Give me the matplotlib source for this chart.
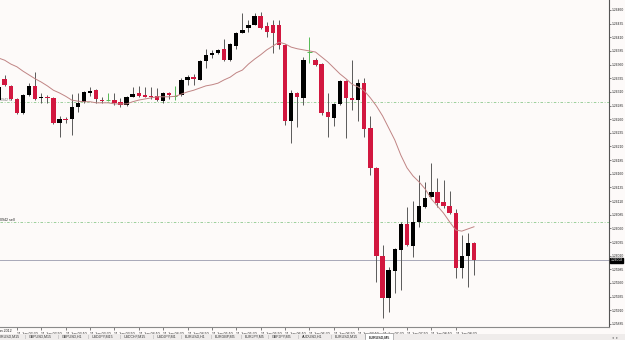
import numpy as np
import pandas as pd
import matplotlib
matplotlib.use('Agg')
import matplotlib.pyplot as plt
from matplotlib.patches import Rectangle

# EURUSD M5, 11 Jun 2012, one value per bar
open_ = [1.26295, 1.26334, 1.26321, 1.26297, 1.26271, 1.26304, 1.26321, 1.26298, 1.26300, 1.26299,
         1.26253, 1.26261, 1.26260, 1.26282, 1.26292, 1.26308, 1.26313, 1.26296, 1.26295, 1.26295,
         1.26292, 1.26286, 1.26301, 1.26308, 1.26304, 1.26302, 1.26302, 1.26293, 1.26308, 1.26303,
         1.26304, 1.26332, 1.26337, 1.26332, 1.26367, 1.26378, 1.26381, 1.26389, 1.26368, 1.26394,
         1.26418, 1.26427, 1.26433, 1.26449, 1.26431, 1.26433, 1.26433, 1.26396, 1.26257, 1.26308,
         1.26299, 1.26383, 1.26368, 1.26361, 1.26273, 1.26262, 1.26288, 1.26330, 1.26298, 1.26295,
         1.26326, 1.26244, 1.26171, 1.26009, 1.25933, 1.25982, 1.26020, 1.26068, 1.26028, 1.26072,
         1.26099, 1.26118, 1.26127, 1.26108, 1.26101, 1.26088, 1.25987, 1.26009, 1.26033]
high = [1.26323, 1.26341, 1.26323, 1.26299, 1.26306, 1.26326, 1.26346, 1.26308, 1.26304, 1.26301,
        1.26266, 1.26264, 1.26306, 1.26308, 1.26312, 1.26319, 1.26315, 1.26301, 1.26308, 1.26308,
        1.26299, 1.26302, 1.26319, 1.26321, 1.26319, 1.26319, 1.26317, 1.26309, 1.26310, 1.26321,
        1.26335, 1.26341, 1.26343, 1.26368, 1.26389, 1.26387, 1.26389, 1.26407, 1.26400, 1.26420,
        1.26455, 1.26442, 1.26455, 1.26456, 1.26438, 1.26442, 1.26442, 1.26398, 1.26313, 1.26310,
        1.26374, 1.26411, 1.26372, 1.26363, 1.26308, 1.26290, 1.26331, 1.26332, 1.26368, 1.26334,
        1.26335, 1.26266, 1.26172, 1.26030, 1.25989, 1.26024, 1.26072, 1.26099, 1.26110, 1.26158,
        1.26145, 1.26180, 1.26152, 1.26149, 1.26128, 1.26096, 1.26048, 1.26052, 1.26035]
low = [1.26292, 1.26321, 1.26295, 1.26270, 1.26270, 1.26302, 1.26295, 1.26290, 1.26290, 1.26251,
       1.26227, 1.26253, 1.26231, 1.26273, 1.26290, 1.26302, 1.26290, 1.26290, 1.26293, 1.26286,
       1.26282, 1.26284, 1.26300, 1.26301, 1.26300, 1.26297, 1.26294, 1.26290, 1.26297, 1.26295,
       1.26302, 1.26323, 1.26323, 1.26331, 1.26354, 1.26372, 1.26379, 1.26367, 1.26367, 1.26389,
       1.26417, 1.26420, 1.26432, 1.26425, 1.26411, 1.26381, 1.26389, 1.26249, 1.26216, 1.26246,
       1.26286, 1.26363, 1.26358, 1.26268, 1.26227, 1.26248, 1.26286, 1.26226, 1.26277, 1.26257,
       1.26227, 1.26158, 1.25962, 1.25896, 1.25907, 1.25942, 1.25947, 1.26028, 1.26008, 1.26063,
       1.26098, 1.26117, 1.26099, 1.26097, 1.26087, 1.25969, 1.25969, 1.25953, 1.25975]
close = [1.26319, 1.26323, 1.26297, 1.26271, 1.26304, 1.26321, 1.26297, 1.26300, 1.26298, 1.26253,
         1.26260, 1.26259, 1.26282, 1.26290, 1.26310, 1.26312, 1.26297, 1.26294, 1.26295, 1.26290,
         1.26286, 1.26301, 1.26306, 1.26302, 1.26301, 1.26300, 1.26295, 1.26308, 1.26304, 1.26303,
         1.26332, 1.26337, 1.26334, 1.26367, 1.26378, 1.26381, 1.26387, 1.26368, 1.26398, 1.26418,
         1.26423, 1.26433, 1.26449, 1.26427, 1.26420, 1.26418, 1.26396, 1.26257, 1.26308, 1.26301,
         1.26368, 1.26383, 1.26359, 1.26271, 1.26264, 1.26288, 1.26330, 1.26299, 1.26296, 1.26326,
         1.26242, 1.26171, 1.26009, 1.25933, 1.25984, 1.26022, 1.26068, 1.26030, 1.26072, 1.26101,
         1.26116, 1.26127, 1.26107, 1.26101, 1.26088, 1.25987, 1.26009, 1.26033, 1.26002]
ma = [1.26372, 1.26368, 1.26361, 1.26356, 1.26348, 1.26341, 1.26334, 1.26328, 1.26321, 1.26313,
      1.26308, 1.26302, 1.26295, 1.26293, 1.26292, 1.26292, 1.26290, 1.26290, 1.26290, 1.26288,
      1.26288, 1.26288, 1.26292, 1.26295, 1.26297, 1.26299, 1.26301, 1.26301, 1.26301, 1.26302,
      1.26306, 1.26310, 1.26313, 1.26317, 1.26321, 1.26323, 1.26326, 1.26332, 1.26337, 1.26345,
      1.26350, 1.26361, 1.26370, 1.26378, 1.26387, 1.26394, 1.26401, 1.26398, 1.26392, 1.26389,
      1.26387, 1.26385, 1.26383, 1.26374, 1.26365, 1.26354, 1.26343, 1.26334, 1.26324, 1.26319,
      1.26312, 1.26299, 1.26284, 1.26266, 1.26244, 1.26222, 1.26194, 1.26171, 1.26156, 1.26145,
      1.26132, 1.26114, 1.26101, 1.26088, 1.26072, 1.26057, 1.26055, 1.26059, 1.26063]

first_bar = '2012-06-11 02:15'
order_sell = 1.26072
order_sl = 1.26292
tabs = ['EURUSD,M15', 'GBPUSD,M15', 'GBPUSD,H1', 'USDJPY,M15', 'USDCHF,M15', 'USDJPY,M1',
        'EURUSD,H1', 'EURGBP,M5', 'EURJPY,M5', 'GBPJPY,M5', 'AUDUSD,H1', 'EURUSD,M15', 'EURUSD,M5']
tab_x = [-5, 27, 60, 90, 122, 155, 183, 213, 243, 270, 300, 333, 367]

W, H = 625, 340
BG = '#fdfaf9'
BULL, BEAR = '#000000', '#d2173f'
FONT = 'Liberation Sans'

o = np.array(open_)
c = np.array(close)
hi = np.array(high)
lo = np.array(low)
idx = np.arange(len(o))
times = pd.date_range(first_bar, periods=len(o), freq='5min')

fig = plt.figure(figsize=(W / 100, H / 100), dpi=100, facecolor=BG)
ax = fig.add_axes([0, 13 / H, 609 / W, 327 / H], facecolor=BG)

# wicks
doji = np.isclose(o, c)
ax.vlines(idx[~doji], lo[~doji], hi[~doji], color='#5a5a5a', lw=0.7, zorder=2)
ax.vlines(idx[doji], lo[doji], hi[doji], color='#55bb55', lw=0.7, zorder=2)
ax.hlines(c[doji], idx[doji] - 0.35, idx[doji] + 0.35, color='#55bb55', lw=0.7, zorder=3)

# bodies
up = (c > o) & ~doji
dn = (c < o) & ~doji
ax.bar(idx[up], (c - o)[up], bottom=o[up], width=0.72, color=BULL, lw=0, zorder=3)
ax.bar(idx[dn], (o - c)[dn], bottom=c[dn], width=0.72, color=BEAR, lw=0, zorder=3)

# moving average
ax.plot(idx, ma, color='#c08484', lw=0.7, zorder=4)

# order lines
for lvl in (order_sl, order_sell):
    ax.axhline(lvl, color='#8cc88c', lw=0.6, dashes=(3, 2, 1, 2), zorder=1)
ax.text(0.3, order_sell, '0942 sell', fontsize=2.6, family=FONT, va='bottom', ha='left', color='#222222')
ax.text(0.3, order_sl, '0942 sl', fontsize=2.6, family=FONT, va='bottom', ha='left', color='#777777', zorder=1)

# current price line
ax.axhline(c[-1], color='#a8a8b8', lw=0.7, zorder=1)

ax.set_xlim(0.23, 100.15)
ax.set_ylim(1.258794, 1.264783)

# y axis on the right
yt = np.arange(1.25885, 1.264651, 0.00025)
ax.yaxis.tick_right()
ax.set_yticks(yt)
ax.set_yticklabels([f'{v:.5f}' for v in yt], family=FONT, fontsize=2.4)
ax.tick_params(axis='y', length=1.5, width=0.4, pad=0.6, colors='#222222')

# x axis time labels every 20 minutes
xt = idx[3::4][:19]
ax.set_xticks(xt)
ax.set_xticklabels([t.strftime('11 Jun %H:%M') for t in times[xt]], family=FONT, fontsize=2.6, ha='left')
ax.tick_params(axis='x', length=2, width=0.4, pad=1.5, colors='#222222')

for s in ('left', 'top'):
    ax.spines[s].set_visible(False)
ax.spines['right'].set_color('#555555')
ax.spines['right'].set_linewidth(0.8)
ax.spines['bottom'].set_color('#8a8a8a')
ax.spines['bottom'].set_linewidth(0.8)

# current price marker on axis
fig.text(610.5 / W, 1 - 260 / H, f'{c[-1]:.5f}', fontsize=2.4, family=FONT, color='white', va='center', ha='left',
         bbox=dict(boxstyle='square,pad=0.15', fc='black', ec='black'))

fig.text(12 / W, 1 - 331 / H, '11 Jun 2012', fontsize=2.6, family=FONT, ha='right', va='center', color='#222222')

# symbol tabs
fig.patches.append(Rectangle((0, 0), 1, 6 / H, transform=fig.transFigure, fc='#efeceb', ec='none'))
for name, x in zip(tabs, tab_x):
    active = name == tabs[-1]
    fig.text((x + 2) / W, 1 - 337 / H, name, fontsize=2.6, family=FONT, va='center',
             fontweight='bold' if active else 'normal', color='#333333')
    if x > 0:
        fig.text((x - 2) / W, 1 - 337 / H, '|', fontsize=3, family=FONT, va='center', color='#999999')
fig.patches.append(Rectangle((365 / W, 0), 28 / W, 7 / H, transform=fig.transFigure, fc='white', ec='#888888', lw=0.4))
fig.texts[-2].set_zorder(5)
fig.text(612 / W, 1 - 338 / H, '◂  ▸', fontsize=2.6, color='#777777', va='center')

fig.savefig('out.png', dpi=100, facecolor=BG)
